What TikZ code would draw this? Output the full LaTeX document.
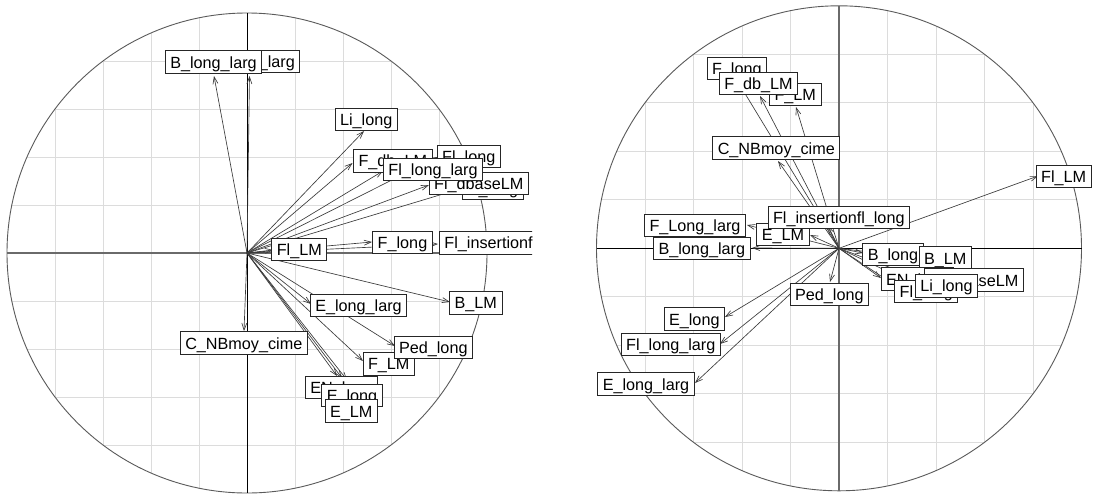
\documentclass[tikz,border=0pt]{standalone}
\usepackage{fontspec}
\setmainfont{Liberation Sans}
\usetikzlibrary{arrows.meta}
\definecolor{gridc}{HTML}{DCDCDC}
\definecolor{circc}{HTML}{5A5A5A}
\definecolor{axc}{HTML}{6A6A6A}
\definecolor{arrc}{HTML}{3A3A3A}
\definecolor{boxc}{HTML}{262626}
\newcommand\pcagrid[3]{%
  \begin{scope}
    \clip (#1,#2) circle[radius=#3pt];
    \foreach \k in {-4,...,4}{
      \draw[gridl] ({#1+\k*#3/5},{#2-#3}) -- ({#1+\k*#3/5},{#2+#3});
      \draw[gridl] ({#1-#3},{#2+\k*#3/5}) -- ({#1+#3},{#2+\k*#3/5});
    }
  \end{scope}}
\begin{document}
\begin{tikzpicture}[x=1pt,y=-1pt,
  gridl/.style={draw=gridc, line width=1pt},
  circ/.style={draw=circc, line width=0.9pt},
  axthick/.style={draw=axc, line width=1.6pt},
  axthin/.style={draw=black, line width=0.9pt},
  vec/.style={draw=arrc, line width=0.65pt, -{Straight Barb[length=7pt,width=5pt]}},
  lab/.style={draw=boxc, line width=0.8pt, fill=white, inner xsep=5pt, inner ysep=0pt,
    text height=17.3pt, text depth=5pt, font=\fontsize{16.2}{18}\selectfont}]
\fill[white] (0,0) rectangle (1094,493);
\useasboundingbox (0,0) rectangle (1094,493);

% ================= LEFT PLOT =================
\begin{scope}
\clip (0,0) rectangle (532,493);
\coordinate (O1) at (247,253);
\pcagrid{247}{253}{240}
\draw[circ] (O1) circle[radius=240pt];
\draw[axthick] (7,253) -- (532,253);
\draw[axthin] (247,13) -- (247,493);
% arrow tips
\coordinate (a1) at (249.5,76);
\coordinate (a2) at (214,76);
\coordinate (a3) at (364,131);
\coordinate (a4) at (352.5,163);
\coordinate (a5) at (437.5,157);
\coordinate (a6) at (383,171);
\coordinate (a7) at (429,185);
\coordinate (a8) at (463,188);
\coordinate (a9) at (273,250);
\coordinate (a10) at (372,242);
\coordinate (a11) at (438,244);
\coordinate (a12) at (311,304);
\coordinate (a13) at (450,302);
\coordinate (a14) at (244,331);
\coordinate (a15) at (363,361);
\coordinate (a16) at (395,346);
\coordinate (a17) at (337,376);
\coordinate (a18) at (342,378);
\coordinate (a19) at (347,380);
\foreach \i in {1,...,19}{\draw[vec] (O1) -- (a\i);}
% labels
\node[lab] (lFLl) at (249.3,61.2) {F\_Long\_larg};
\node[lab] (lBll) at (213.5,62) {B\_long\_larg};
\node[lab] (lLi) at (366.2,119.1) {Li\_long};
\node[lab] (lFdb) at (392.8,160.8) {F\_db\_LM};
\node[lab] (lFll) at (468.8,156.7) {Fl\_long};
\node[lab] (lBl) at (493,188.5) {B\_long};
\node[lab] (lFdbase) at (478.8,183.7) {Fl\_dbaseLM};
\node[lab] (lFlll) at (433,169.7) {Fl\_long\_larg};
\node[lab] (lFlLM) at (299.3,249.5) {Fl\_LM};
\node[lab] (lFl) at (402.5,242.2) {F\_long};
\node[lab, anchor=west] (lFins) at (439,242.8) {Fl\_insertionfl\_long};
\node[lab] (lEll) at (358.5,305.5) {E\_long\_larg};
\node[lab] (lBLM) at (475.8,302.8) {B\_LM};
\node[lab] (lCN) at (243.8,343) {C\_NBmoy\_cime};
\node[lab] (lFLM) at (388.7,363.8) {F\_LM};
\node[lab] (lPed) at (433.3,347.2) {Ped\_long};
\node[lab, anchor=west] (lEN) at (305,387.2) {EN\_long};
\node[lab] (lEl) at (352,395.5) {E\_long};
\node[lab] (lELM) at (351.2,411) {E\_LM};
\end{scope}

% ================= RIGHT PLOT =================
\coordinate (O2) at (839,248.3);
\pcagrid{839}{248.3}{242.5}
\draw[circ] (O2) circle[radius=242.5pt];
\draw[axthin] (596.5,248.3) -- (1081.5,248.3);
\draw[axthick] (839,5.8) -- (839,490.8);
\coordinate (b1) at (738,82);
\coordinate (b2) at (760,96);
\coordinate (b3) at (796,107);
\coordinate (b4) at (778,161);
\coordinate (b5) at (828,226);
\coordinate (b6) at (747,225);
\coordinate (b7) at (810,235);
\coordinate (b8) at (752,248);
\coordinate (b9) at (863,253);
\coordinate (b10) at (918,258);
\coordinate (b11) at (1038,176);
\coordinate (b12) at (881,278);
\coordinate (b13) at (926,281);
\coordinate (b14) at (896,286);
\coordinate (b15) at (916,285);
\coordinate (b16) at (830,282);
\coordinate (b17) at (725,317);
\coordinate (b18) at (720,344);
\coordinate (b19) at (695,383);
\foreach \i in {1,...,19}{\draw[vec] (O2) -- (b\i);}
\node[lab] (rFl) at (736.8,68.3) {F\_long};
\node[lab] (rFLM) at (795.2,94.5) {F\_LM};
\node[lab] (rFdb) at (758.5,83.5) {F\_db\_LM};
\node[lab] (rCN) at (776.3,148) {C\_NBmoy\_cime};
\node[lab] (rFLl) at (695,225.2) {F\_Long\_larg};
\node[lab] (rELM) at (783,234.3) {E\_LM};
\node[lab] (rFins) at (838.8,217.3) {Fl\_insertionfl\_long};
\node[lab] (rBll) at (701.8,248.3) {B\_long\_larg};
\node[lab] (rBl) at (893,254.7) {B\_long};
\node[lab] (rBLM) at (945.2,258) {B\_LM};
\node[lab] (rFlLM) at (1063.7,176.2) {Fl\_LM};
\node[lab, anchor=west] (rEN) at (880.7,279) {EN\_long};
\node[lab, anchor=east] (rFdbase) at (1023.7,280) {Fl\_dbaseLM};
\node[lab] (rFll) at (926.2,291.7) {Fl\_long};
\node[lab] (rLi) at (946.5,285.8) {Li\_long};
\node[lab] (rPed) at (829.3,294.7) {Ped\_long};
\node[lab] (rEl) at (694.3,319) {E\_long};
\node[lab] (rFlll) at (670.8,344.7) {Fl\_long\_larg};
\node[lab] (rEll) at (646,384) {E\_long\_larg};
\end{tikzpicture}
\end{document}
